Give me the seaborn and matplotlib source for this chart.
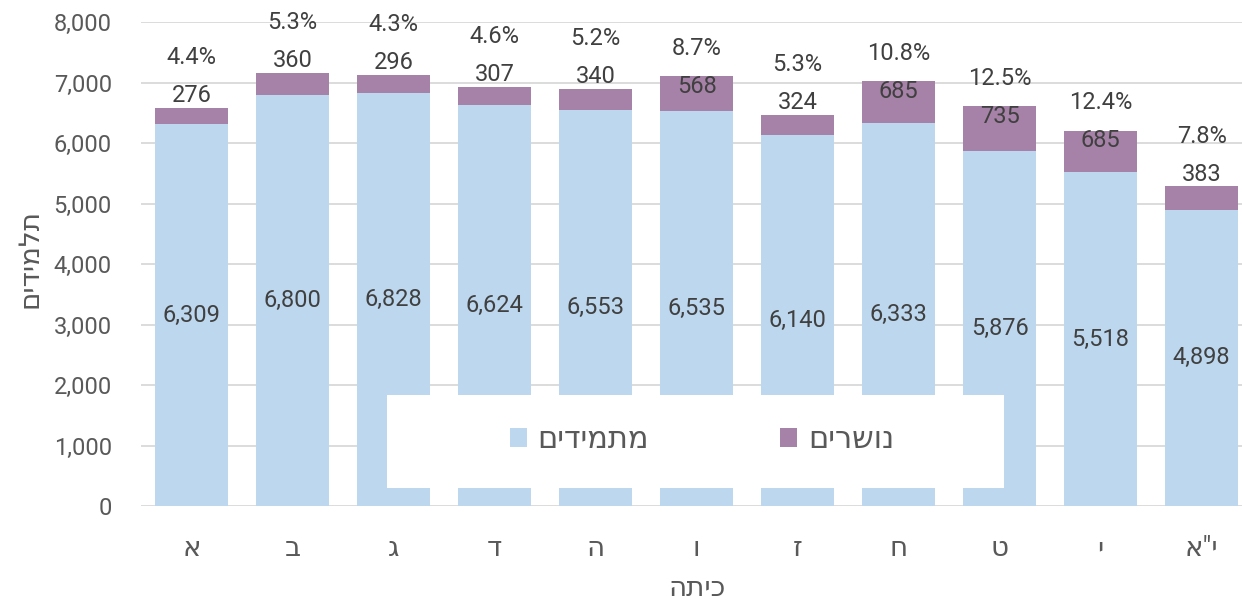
import matplotlib
matplotlib.use("Agg")
import matplotlib.pyplot as plt
import seaborn as sns
import pandas as pd
from matplotlib.patches import Patch, Rectangle
from matplotlib.ticker import FuncFormatter, MultipleLocator

# Students per grade: persisting students and dropouts
grades = ["א", "ב", "ג", "ד", "ה", "ו", "ז", "ח", "ט", "י", "י\"א"]
persisting = [6309, 6800, 6828, 6624, 6553, 6535, 6140, 6333, 5876, 5518, 4898]
dropouts = [276, 360, 296, 307, 340, 568, 324, 685, 735, 685, 383]

series_names = ["מתמידים", "נושרים"]
x_title = "כיתה"
y_title = "תלמידים"


def rtl(s):
    # matplotlib lays glyphs out left to right, so Hebrew is reversed for display
    return s[::-1]


sns.set_theme(style="white")
plt.rcParams["font.family"] = ["Roboto", "DejaVu Sans"]

BLUE = "#BDD7EE"
PURPLE = "#A682A8"
TEXT = "#404040"
AXIS_TEXT = "#595959"
FS = 17
FS_HE = 20

W, H = 1242, 603
fig = plt.figure(figsize=(W / 100, H / 100), dpi=100)
ax = fig.add_axes([141 / W, 97 / H, 1 - 141 / W, 484 / H])

df = pd.DataFrame({
    "grade": [rtl(g) for g in grades],
    "persisting": persisting,
    "dropouts": dropouts,
})
df["total"] = df["persisting"] + df["dropouts"]
df["rate"] = df["dropouts"] / df["persisting"] * 100

# stacked bars: total (purple) drawn first, persisting (blue) on top of it
sns.barplot(data=df, x="grade", y="total", color=PURPLE, saturation=1,
            width=0.72, ax=ax, zorder=2, linewidth=0)
sns.barplot(data=df, x="grade", y="persisting", color=BLUE, saturation=1,
            width=0.72, ax=ax, zorder=2, linewidth=0)

ax.set_xlim(-0.5, 10.4)
ax.set_ylim(0, 8000)
ax.yaxis.set_major_locator(MultipleLocator(1000))
ax.yaxis.set_major_formatter(FuncFormatter(lambda v, p: f"{int(v):,}"))
ax.yaxis.grid(True, color="#D9D9D9", lw=1.3)
ax.set_axisbelow(True)
for s in ax.spines.values():
    s.set_visible(False)
ax.tick_params(axis="y", length=0, pad=21, labelsize=FS, labelcolor=AXIS_TEXT)
ax.tick_params(axis="x", length=0, pad=21, labelsize=FS_HE, labelcolor=AXIS_TEXT)
ax.set_xlabel("")
ax.set_ylabel("")

for i, row in df.iterrows():
    ax.text(i, row["persisting"] / 2, f"{row['persisting']:,}", ha="center",
            va="center", fontsize=FS, color=TEXT, zorder=4)
    off = 12 if row["dropouts"] < 450 else -10
    ax.annotate(f"{row['dropouts']:,}", (i, row["total"]), xytext=(0, off),
                textcoords="offset pixels", ha="center", va="center",
                fontsize=FS, color=TEXT, zorder=4)
    ax.annotate(f"{row['rate']:.1f}%", (i, row["total"]), xytext=(0, off + 38),
                textcoords="offset pixels", ha="center", va="center",
                fontsize=FS, color=TEXT, zorder=4)

# white legend panel sitting over the bars
fig.patches.append(Rectangle((387 / W, (H - 488) / H), 617 / W, 93 / H,
                             transform=fig.transFigure, facecolor="white",
                             edgecolor="none", zorder=5))
handles = [Patch(facecolor=BLUE, edgecolor="none", label=rtl(series_names[0])),
           Patch(facecolor=PURPLE, edgecolor="none", label=rtl(series_names[1]))]
leg = fig.legend(handles=handles, loc="center", bbox_to_anchor=(702 / W, (H - 440) / H),
                 ncol=2, frameon=False, fontsize=22, handlelength=0.55,
                 handleheight=0.55, handletextpad=0.35, columnspacing=4.3,
                 labelcolor=AXIS_TEXT)
leg.set_zorder(6)

fig.text(30 / W, 1 - 258 / H, rtl(y_title), rotation=90, ha="center", va="center",
         fontsize=FS_HE, color=AXIS_TEXT)
fig.text(697 / W, 1 - 588 / H, rtl(x_title), ha="center", va="center",
         fontsize=FS_HE, color=AXIS_TEXT)

fig.savefig("out.png", dpi=100)
